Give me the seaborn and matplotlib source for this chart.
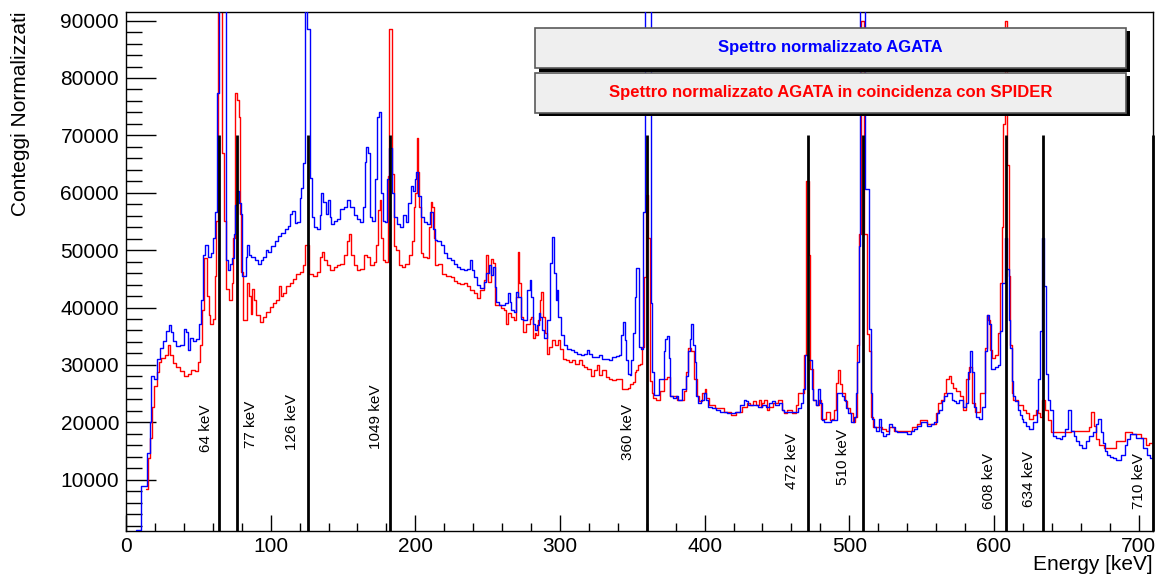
import matplotlib
matplotlib.use("Agg")
import matplotlib.pyplot as plt
from matplotlib.patches import Rectangle
from matplotlib.ticker import MultipleLocator
import seaborn as sns
import pandas as pd

# ---------------- data ----------------
blue_energy = [7.0, 14.0, 15.6, 17.0, 18.2, 20.9, 22.1, 24.4, 26.7, 29.0, 30.2, 31.8, 33.6, 35.9, 39.4,
    40.5, 42.1, 43.5, 45.1, 47.5, 49.8, 51.1, 52.5, 53.9, 55.5, 57.8, 59.4, 60.8, 61.8, 63.6,
    65.2, 68.0, 69.8, 71.0, 72.4, 74.0, 75.1, 76.0, 77.4, 78.8, 79.7, 80.7, 82.5, 83.4, 84.4,
    85.3, 87.8, 90.1, 92.4, 94.0, 95.9, 97.7, 99.3, 101.6, 103.9, 106.3, 108.6, 110.9, 112.7,
    114.3, 115.9, 117.1, 119.4, 120.6, 121.7, 122.9, 124.5, 126.3, 127.9, 128.6, 130.9, 133.2,
    134.4, 135.5, 137.4, 139.0, 140.2, 141.3, 142.5, 144.8, 147.1, 149.4, 151.7, 154.0, 156.3,
    158.6, 160.9, 162.8, 164.4, 165.5, 166.2, 167.8, 169.0, 171.3, 173.1, 174.3, 175.9, 177.1,
    178.2, 179.8, 181.2, 182.8, 184.4, 186.3, 188.6, 190.9, 192.7, 194.4, 196.0, 197.4, 199.0,
    200.1, 201.3, 202.9, 204.7, 207.0, 209.3, 211.2, 212.8, 214.4, 216.3, 218.6, 220.9, 223.2,
    225.5, 227.8, 230.1, 232.4, 234.7, 237.0, 238.6, 239.8, 241.6, 243.9, 246.2, 248.5, 249.7,
    252.0, 253.1, 254.3, 255.4, 256.6, 258.9, 261.2, 263.5, 264.7, 265.8, 267.0, 269.3, 270.4,
    272.1, 273.4, 276.2, 278.5, 279.7, 280.8, 282.0, 283.1, 284.7, 285.9, 287.0, 288.2, 290.0,
    292.3, 293.5, 295.1, 296.5, 297.4, 298.3, 299.7, 301.6, 303.9, 306.2, 308.5, 310.8, 313.1,
    315.4, 317.7, 319.3, 321.2, 323.5, 325.8, 328.1, 330.4, 332.7, 335.0, 337.3, 339.6, 341.9,
    343.1, 344.2, 345.4, 346.5, 347.7, 348.8, 350.0, 351.1, 352.3, 353.5, 355.8, 356.9, 358.1,
    359.2, 362.9, 363.1, 364.3, 365.4, 371.2, 372.4, 373.5, 374.7, 375.8, 377.0, 378.8, 381.1,
    382.7, 386.2, 388.0, 389.2, 390.3, 391.5, 392.6, 393.8, 394.9, 396.6, 398.9, 400.3, 401.9,
    403.5, 406.5, 408.8, 412.3, 419.2, 422.6, 426.1, 427.9, 429.5, 431.2, 435.3, 438.8, 441.1,
    443.4, 445.7, 447.3, 449.6, 452.6, 454.2, 456.1, 463.4, 465.3, 467.6, 469.0, 469.9, 473.4,
    474.5, 475.7, 478.0, 479.2, 480.3, 481.9, 483.8, 490.7, 492.3, 494.1, 495.8, 496.9, 498.1,
    499.9, 502.2, 503.8, 505.0, 506.4, 507.3, 508.0, 513.3, 514.5, 515.4, 516.3, 517.7, 519.5,
    521.1, 522.5, 524.1, 526.9, 528.7, 530.4, 532.2, 534.5, 539.1, 541.4, 543.7, 546.0, 548.3,
    550.6, 552.9, 555.3, 557.6, 559.9, 561.5, 563.3, 564.9, 566.8, 568.4, 570.2, 571.4, 573.0,
    574.9, 576.5, 577.9, 579.9, 581.8, 582.9, 584.1, 585.9, 586.9, 588.7, 591.0, 592.8, 594.7,
    595.6, 597.5, 599.1, 602.5, 603.7, 604.8, 606.0, 607.1, 608.0, 609.9, 610.8, 611.7, 612.9,
    614.1, 615.2, 617.5, 618.7, 619.8, 621.0, 623.3, 625.6, 629.0, 630.2, 631.3, 632.5, 634.3,
    635.5, 636.7, 638.3, 639.9, 641.3, 644.5, 646.3, 648.0, 651.0, 652.1, 654.4, 656.0, 657.9,
    660.2, 662.0, 665.2, 666.6, 670.1, 671.2, 672.9, 675.2, 676.3, 677.5, 679.1, 680.9, 683.2,
    685.5, 689.7, 691.3, 692.9, 694.8, 701.7, 705.1, 706.8, 708.6, 710.0]
blue_counts = [1200, 8900, 14600, 20000, 28100, 27500, 31100, 32900, 34100, 35900, 36950, 35650, 34100, 33350, 33550,
    36250, 35650, 32650, 34750, 34150, 34450, 37150, 41350, 49150, 50850, 48850, 49450, 52150, 56650, 77300,
    100000, 100000, 48250, 46450, 47650, 48550, 52750, 57900, 60250, 58150, 56350, 45550, 45550, 48850, 50950,
    49150, 48850, 48250, 47650, 48250, 48850, 50050, 49750, 50650, 51550, 52450, 53050, 53650, 54250,
    56250, 56850, 54700, 54850, 59050, 60850, 65100, 100000, 88500, 62650, 55750, 53950, 53650,
    56050, 59950, 58450, 56350, 58750, 55750, 54550, 55150, 55450, 57250, 57550, 58750, 57550,
    56050, 55450, 54850, 57550, 65400, 68050, 66850, 55750, 55150, 62350, 73200, 74100, 59950,
    55150, 54850, 62350, 67800, 59950, 55750, 54550, 53950, 56050, 54850, 58150, 61150, 60250,
    62350, 63550, 59350, 55750, 54850, 54550, 56650, 53650, 51850, 51550, 50950, 49450, 48550,
    48250, 47650, 47050, 46750, 46450, 46750, 48250, 46450, 45350, 43900, 43320, 44480, 45930,
    47390, 45640, 47100, 43610, 40990, 40410, 40410, 40700, 42450, 40990, 39540, 39250, 42740,
    41860, 38080, 37790, 43030, 44770, 41860, 37210, 36050, 36920, 38960, 38380, 36050, 34600,
    37790, 47680, 52330, 45930, 41280, 43030, 38380, 35180, 33430, 32850, 32560, 32270, 31980,
    31690, 31870, 32680, 31980, 31400, 31400, 31690, 31110, 31110, 30930, 31400, 31520, 31690,
    35180, 37500, 34310, 30820, 28490, 28200, 30820, 35470, 41860, 46800, 33140, 32850, 56690,
    100000, 100000, 40750, 28750, 24830, 27530, 32340, 34440, 35040, 31140, 24530, 24230, 24530,
    23930, 25730, 28130, 32340, 34440, 37140, 33540, 30540, 24530, 23330, 23930, 25130, 23930,
    22730, 22430, 22130, 21830, 21530, 21830, 23030, 23930, 23630, 23030, 23030, 22730, 23030,
    22730, 23330, 23630, 23030, 23330, 22130, 21830, 21830, 22430, 23330, 25730, 31740, 30840,
    25730, 23930, 23030, 25730, 23330, 20330, 20030, 20330, 25130, 25130, 24530, 23930, 22430,
    21530, 20030, 20930, 25130, 30540, 50660, 100000, 60570, 36240, 25130, 20630, 19130, 18530,
    20630, 18230, 17630, 17930, 19730, 19130, 18530, 18230, 18230, 17930, 18530, 18830, 19430,
    20030, 20030, 19430, 19730, 20030, 21530, 22130, 23630, 24530, 25130, 25130, 23930, 23630,
    23330, 23930, 23930, 22730, 23330, 28730, 32340, 28730, 22730, 20930, 20630, 22730, 32340,
    38650, 37150, 29330, 29630, 29930, 35940, 44350, 44350, 52160, 46750, 37740, 32940, 27230,
    24530, 23630, 22130, 21230, 20630, 20030, 19430, 18830, 20030, 22130, 27530, 35940, 52160,
    43750, 28430, 23930, 22130, 17630, 17330, 17030, 17630, 18830, 22130, 18530, 17630, 16730,
    16120, 15520, 16730, 17630, 18230, 19730, 20630, 18230, 16420, 14920, 14320, 14020, 13720,
    13420, 14320, 16120, 17030, 17930, 17330, 15520, 14320, 13720, 13720]

red_energy = [14.0, 16.3, 17.5, 18.6, 20.2, 22.1, 23.2, 25.5, 27.9, 30.2, 31.3, 33.6, 35.9, 38.2, 41.7,
    44.0, 46.3, 48.6, 50.9, 52.1, 53.2, 54.4, 55.5, 56.7, 57.8, 59.0, 60.8, 61.8, 63.1, 64.6,
    67.5, 68.5, 69.6, 72.4, 73.5, 74.4, 75.8, 77.4, 78.6, 79.3, 80.2, 81.1, 83.4, 84.4, 85.5,
    86.7, 87.8, 88.9, 91.3, 93.6, 95.9, 98.2, 100.5, 102.8, 105.1, 106.3, 107.9, 109.7, 112.0,
    114.3, 116.6, 118.9, 121.7, 122.9, 124.5, 128.2, 130.9, 133.2, 135.1, 136.2, 137.9, 140.2,
    142.5, 144.8, 147.1, 149.4, 151.7, 153.5, 155.2, 156.3, 158.6, 160.9, 163.2, 165.5, 167.8,
    170.1, 172.4, 173.6, 174.7, 175.9, 177.1, 178.2, 180.5, 181.2, 182.8, 184.7, 185.8, 187.4,
    189.7, 192.0, 194.4, 196.7, 198.3, 199.4, 200.6, 201.3, 202.4, 203.1, 204.3, 206.6, 208.9,
    210.3, 211.2, 212.4, 213.5, 214.4, 217.4, 219.7, 223.2, 225.5, 227.8, 230.1, 232.4, 234.7,
    237.0, 239.3, 241.6, 243.9, 246.2, 248.5, 249.7, 251.3, 252.7, 254.3, 255.4, 257.8, 260.1,
    262.4, 263.5, 265.1, 267.0, 269.3, 270.4, 271.1, 272.3, 273.4, 275.0, 278.5, 279.7, 280.8,
    282.0, 283.1, 284.3, 285.4, 286.6, 287.7, 288.9, 290.0, 291.7, 293.5, 295.8, 297.4, 299.3,
    301.1, 302.7, 305.0, 307.3, 309.6, 311.9, 314.3, 315.9, 317.7, 320.0, 322.3, 324.6, 326.5,
    328.1, 330.4, 332.7, 335.0, 337.3, 339.6, 345.8, 347.7, 349.3, 351.1, 352.3, 353.5, 354.6,
    356.2, 357.4, 358.8, 360.0, 362.0, 362.9, 363.8, 365.0, 367.3, 371.2, 372.6, 375.4, 376.5,
    385.0, 386.2, 388.0, 389.2, 391.5, 394.3, 395.4, 397.3, 399.6, 400.7, 401.9, 404.2, 409.9,
    416.9, 420.3, 423.8, 428.4, 430.7, 432.3, 434.2, 436.5, 438.1, 439.5, 440.4, 442.2, 443.4,
    445.7, 449.1, 452.6, 454.2, 456.1, 458.4, 462.5, 464.1, 465.3, 468.1, 469.0, 471.3, 472.6,
    473.8, 475.7, 478.0, 479.8, 481.5, 486.1, 487.2, 488.4, 490.0, 491.9, 493.2, 494.6, 496.0,
    497.6, 499.4, 501.5, 503.4, 505.0, 506.4, 507.3, 508.5, 511.9, 513.1, 514.2, 515.4, 517.2,
    521.8, 524.1, 526.4, 529.2, 532.2, 541.4, 546.0, 548.3, 549.5, 558.7, 560.6, 562.2, 564.5,
    566.1, 567.9, 569.8, 570.9, 572.1, 575.3, 577.2, 579.9, 582.2, 583.4, 585.9, 587.5, 593.3,
    594.5, 595.6, 596.8, 597.9, 599.1, 602.5, 603.7, 604.8, 606.0, 607.1, 607.9, 609.9, 610.8,
    611.7, 612.9, 614.1, 618.7, 621.0, 623.3, 625.6, 627.9, 629.7, 631.3, 632.9, 634.3, 635.9,
    638.3, 640.6, 665.5, 666.6, 667.8, 670.1, 671.7, 673.5, 678.6, 689.7, 691.3, 699.4, 704.0,
    706.3, 708.6, 710.0]
red_counts = [8300, 13700, 17300, 22700, 26300, 28750, 30550, 31150, 31750, 33550, 31750, 30250, 29650, 28850, 28050,
    28450, 29050, 28850, 30550, 33550, 39550, 48550, 48650, 41950, 38650, 37150, 38050, 45550, 55150, 100000,
    66860, 55150, 43150, 41350, 44350, 52150, 77400, 76200, 73200, 56350, 46150, 37750, 37750, 44350, 41950,
    38950, 43150, 41350, 38650, 37450, 38350, 39250, 40150, 40750, 41350, 43750, 41950, 42550, 43750,
    44350, 44950, 45850, 46150, 47350, 50950, 45850, 45550, 46150, 48850, 49750, 48250, 47350,
    46450, 47050, 47350, 47650, 49150, 51550, 52750, 49150, 47350, 46450, 46750, 49150, 48850,
    47350, 47950, 50950, 56950, 58750, 52150, 48250, 47950, 62950, 88500, 63250, 50650, 50050,
    47350, 47050, 47650, 49150, 51550, 57550, 59950, 69550, 63550, 57550, 49450, 48850, 48550,
    53950, 58450, 57550, 52150, 47350, 47650, 45850, 45550, 45250, 44650, 44350, 44050, 44350,
    43750, 43030, 42450, 41570, 43030, 44770, 49130, 44480, 48370, 47680, 40410, 40410, 39830,
    39540, 37210, 38960, 38380, 37790, 41860, 49710, 44190, 38380, 35760, 37210, 38080, 38380,
    34600, 35470, 35180, 37790, 41280, 42740, 38380, 35470, 31980, 33140, 34310, 33430, 34310,
    32850, 31110, 30820, 30530, 30820, 30240, 30820, 29950, 29660, 29370, 28030, 29080, 29950,
    28200, 29080, 27910, 27620, 27330, 27620, 25880, 26050, 26750, 27040, 28790, 29080, 29950,
    30240, 33140, 45350, 59670, 52160, 27230, 25130, 24230, 23930, 25430, 27530, 27830, 24530,
    23930, 25430, 28730, 32940, 32340, 27530, 24530, 23630, 25130, 25730, 24230, 23030, 22430,
    21830, 21230, 21830, 22730, 23330, 23030, 23630, 23030, 23930, 22730, 23330, 23930, 22130,
    22730, 23330, 23810, 22130, 21530, 22130, 21530, 23030, 25130, 25130, 31740, 62070, 49160,
    29330, 23930, 23030, 23930, 20630, 21830, 20330, 20630, 22130, 26930, 29030, 26630, 25130,
    23630, 22430, 21530, 20030, 20930, 33540, 52760, 90000, 52760, 35340, 32340, 20930, 19130,
    19130, 18830, 18530, 19130, 18530, 18530, 19130, 19730, 20330, 19730, 21530, 23330, 23930,
    25130, 27530, 28130, 26930, 26030, 25430, 24530, 22130, 27530, 29630, 23330, 21830, 25130,
    32940, 38650, 37740, 32640, 31140, 31740, 35640, 44350, 53960, 71980, 90000, 64770, 45550,
    33540, 25130, 23930, 23030, 22130, 21530, 20630, 21230, 22130, 21530, 20930, 23930, 22130,
    20330, 18230, 18530, 19130, 21830, 19430, 17030, 16120, 15520, 16730, 18230, 17930, 17330,
    16120, 16420, 16420]

line_energies = [64, 77, 126, 182.4, 360, 471.5, 509.5, 608.5, 634, 710]
line_labels = ["64 keV", "77 keV", "126 keV", "1049 keV", "360 keV", "472 keV",
               "510 keV", "608 keV", "634 keV", "710 keV"]
label_x = [55.0, 86.5, 115.0, 173.0, 346.8, 460.5, 495.5, 596.7, 624.0, 700.0]
label_y = [14800, 15500, 15100, 15400, 13400, 8450, 9050, 4950, 5250, 4950]
line_top = 70000

legend_texts = ["Spettro normalizzato AGATA", "Spettro normalizzato AGATA in coincidenza con SPIDER"]
y_ticks = [10000, 20000, 30000, 40000, 50000, 60000, 70000, 80000, 90000]
x_ticks = [0, 100, 200, 300, 400, 500, 600, 700]

# ---------------- figure ----------------
sns.set_theme(style="white")
plt.rcParams['font.family'] = ['Liberation Sans', 'DejaVu Sans']
plt.rcParams['text.color'] = 'black'
plt.rcParams['axes.labelcolor'] = 'black'
plt.rcParams['xtick.color'] = 'black'
plt.rcParams['ytick.color'] = 'black'

fig = plt.figure(figsize=(11.6, 5.79), dpi=100)
ax = fig.add_axes([126/1160, 1-531/579, 1027/1160, 519/579])

blue_df = pd.DataFrame({"E": blue_energy, "C": blue_counts})
red_df = pd.DataFrame({"E": red_energy, "C": red_counts})

sns.lineplot(data=red_df, x="E", y="C", ax=ax, color="#ff0000", lw=1.0,
             drawstyle="steps-mid", estimator=None, sort=False, zorder=2)
sns.lineplot(data=blue_df, x="E", y="C", ax=ax, color="#0000ff", lw=1.0,
             drawstyle="steps-mid", estimator=None, sort=False, zorder=3)

ymin, ymax = 1050, 91500
ax.set_xlim(0, 710)
ax.set_ylim(ymin, ymax)

ax.vlines(line_energies, ymin, line_top, colors="black", lw=2.0, zorder=4, clip_on=False)
for lx, ly, txt in zip(label_x, label_y, line_labels):
    ax.text(lx, ly, txt, rotation=90, ha="center", va="bottom", fontsize=11, color="black", zorder=5)

# ticks in ROOT style
ax.set_xticks(x_ticks)
ax.set_yticks(y_ticks)
ax.xaxis.set_minor_locator(MultipleLocator(20))
ax.yaxis.set_minor_locator(MultipleLocator(2000))
ax.tick_params(axis="both", which="both", direction="in", colors="black", width=1.0, labelsize=15)
ax.tick_params(axis="y", which="major", length=21.5, pad=5)
ax.tick_params(axis="y", which="minor", length=11.5)
ax.tick_params(axis="x", which="major", length=11.5, pad=4)
ax.tick_params(axis="x", which="minor", length=5.8)
ax.tick_params(left=True, bottom=True, which="both")
for s in ax.spines.values():
    s.set_color("black")
    s.set_linewidth(1.0)

ax.set_xlabel("Energy [keV]", fontsize=15, loc="right", color="black")
ax.set_ylabel("Conteggi Normalizzati", fontsize=15, loc="top", color="black")
ax.xaxis.set_label_coords(1.0, -0.046)
ax.yaxis.set_label_coords(-0.093, 1.0)

# ROOT-like legend boxes with shadow
bx0, bw = 0.3982, 0.5755
boxes = [(0.8915, 0.0783), (0.8060, 0.0770)]
colors = ["#0000ff", "#ff0000"]
dx, dy = 0.0039, 0.0067
for (by, bh), txt, col in zip(boxes, legend_texts, colors):
    ax.add_patch(Rectangle((bx0 + dx, by - dy), bw, bh, transform=ax.transAxes,
                           facecolor="black", edgecolor="none", zorder=6, clip_on=False))
    ax.add_patch(Rectangle((bx0, by), bw, bh, transform=ax.transAxes,
                           facecolor="#efefef", edgecolor="#5a5a5a", lw=1.2, zorder=7, clip_on=False))
    ax.text(bx0 + bw / 2, by + bh / 2, txt, transform=ax.transAxes, ha="center", va="center",
            fontsize=12, fontweight="bold", color=col, zorder=8)

fig.savefig("out.png", dpi=100, facecolor="white")
